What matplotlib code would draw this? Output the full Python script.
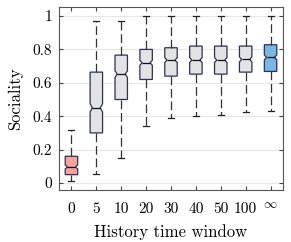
import numpy as np
import matplotlib
matplotlib.use("Agg")
import matplotlib.pyplot as plt
from matplotlib.transforms import ScaledTranslation

plt.rcParams['font.family'] = 'serif'
plt.rcParams['font.serif'] = ['cmr10']
plt.rcParams['mathtext.fontset'] = 'cm'
plt.rcParams['axes.unicode_minus'] = False

labels = ['0', '5', '10', '20', '30', '40', '50', '100', r'$\infty$']
whislo = [0.01, 0.056, 0.15, 0.344, 0.388, 0.404, 0.41, 0.424, 0.43]
q1 = [0.05, 0.30, 0.50, 0.62, 0.64, 0.652, 0.652, 0.664, 0.668]
med = [0.096, 0.45, 0.652, 0.72, 0.736, 0.736, 0.736, 0.74, 0.752]
q3 = [0.16, 0.664, 0.766, 0.80, 0.81, 0.82, 0.82, 0.82, 0.828]
whishi = [0.32, 0.97, 0.97, 1.0, 1.0, 1.0, 1.0, 1.0, 1.0]
notch = [0.012, 0.025, 0.02, 0.015, 0.015, 0.015, 0.015, 0.015, 0.015]
colors = ['#f7a39c'] + ['#e3e3e3'] * 7 + ['#79b6e0']

stats = []
for i in range(len(labels)):
    stats.append(dict(whislo=whislo[i], q1=q1[i], med=med[i], q3=q3[i],
                      whishi=whishi[i], cilo=med[i] - notch[i],
                      cihi=med[i] + notch[i], fliers=[], label=labels[i]))

w = 0.5
fig = plt.figure(figsize=(2.91, 2.42), dpi=100)
ax = fig.add_axes([59/291, 1 - 190/242, 224/291, 183/242])
ax.yaxis.grid(True, color='#e6e6e6', lw=0.8)
ax.set_axisbelow(True)
bp = ax.bxp(stats, widths=w, shownotches=True, patch_artist=True,
            showfliers=False,
            boxprops=dict(edgecolor='#2c3058', lw=0.9),
            whiskerprops=dict(color='#333333', lw=0.9, ls=(0, (7, 3))),
            capprops=dict(color='#222222', lw=0.9),
            medianprops=dict(color='#111111', lw=0.9))
# shallower notches, like matlab
for i, (patch, c) in enumerate(zip(bp['boxes'], colors)):
    patch.set_facecolor(c)
    pos = i + 1
    v = patch.get_path().vertices
    v[3, 0] = pos + w * 0.32
    v[8, 0] = pos - w * 0.32
    bp['medians'][i].set_xdata([pos - w * 0.32, pos + w * 0.32])
for cap in bp['caps']:
    x = cap.get_xdata()
    m = (x[0] + x[1]) / 2
    cap.set_xdata([m - 0.12, m + 0.12])

ax.set_xlim(0.5, 9.5)
ax.set_ylim(-0.042, 1.054)
ax.set_yticks([0, 0.2, 0.4, 0.6, 0.8, 1])
ax.set_yticklabels(['0', '0.2', '0.4', '0.6', '0.8', '1'])
ax.tick_params(labelsize=11, direction='in', length=3, color='#444444',
               top=True, right=True)
ax.tick_params(axis='x', pad=9)
ax.tick_params(axis='y', pad=5)
inf_lbl = ax.get_xticklabels()[-1]
inf_lbl.set_fontsize(9.5)
inf_lbl.set_transform(inf_lbl.get_transform() +
                      ScaledTranslation(0, 3.5/100, fig.dpi_scale_trans))
for s in ax.spines.values():
    s.set_color('#555555')
    s.set_linewidth(0.8)
ax.set_xlabel('History time window', fontsize=12, labelpad=6)
ax.set_ylabel('Sociality', fontsize=12, labelpad=7)
fig.savefig('out.png', dpi=100)
